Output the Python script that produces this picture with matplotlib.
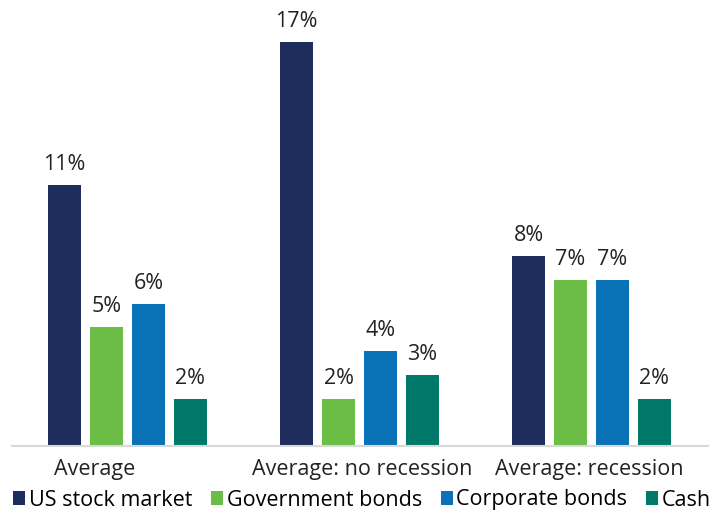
import matplotlib
matplotlib.use("Agg")
import matplotlib.pyplot as plt
import numpy as np
from matplotlib.patches import Patch

plt.rcParams["font.family"] = ["Open Sans", "DejaVu Sans"]

categories = ["Average", "Average: no recession", "Average: recession"]
series = ["US stock market", "Government bonds", "Corporate bonds", "Cash"]
stock = [11, 17, 8]
gov_bonds = [5, 2, 7]
corp_bonds = [6, 4, 7]
cash = [2, 3, 2]
colors = ["#1e2d5b", "#6bbd45", "#0a73b8", "#00796b"]

values = [stock, gov_bonds, corp_bonds, cash]

fig = plt.figure(figsize=(7.24, 5.13), dpi=100)
ax = fig.add_axes([11.5 / 724, 67 / 513, 696 / 724, 446 / 513])

x = np.arange(len(categories))
width = 0.142
step = 0.181
offsets = (np.arange(len(series)) - 1.5) * step

for vals, off, color in zip(values, offsets, colors):
    bars = ax.bar(x + off, vals, width, color=color)
    for b, v in zip(bars, vals):
        ax.text(b.get_x() + b.get_width() / 2, v + 0.42, f"{v}%",
                ha="center", va="bottom", fontsize=15.5, color="#222222")

ax.set_xlim(-0.5, len(categories) - 0.5)
ax.set_ylim(0, 446 / 23.75)

for s in ["top", "right", "left"]:
    ax.spines[s].set_visible(False)
ax.spines["bottom"].set_color("#d9d9d9")
ax.spines["bottom"].set_linewidth(1.5)
ax.set_yticks([])
ax.set_xticks([])

# category labels sit a little off the group centres
label_x = [-0.14, 1.01, 1.99]
for lx, name in zip(label_x, categories):
    ax.text(lx, -0.97, name, ha="center", va="center", fontsize=15.5,
            color="#222222")

handles = [Patch(facecolor=c, edgecolor="none") for c in colors]
fig.legend(handles, series, loc="center", bbox_to_anchor=(0.5, 13 / 513),
           ncol=4, frameon=False, fontsize=15.5, handlelength=0.56,
           handleheight=0.6, handletextpad=0.18, columnspacing=0.86,
           borderaxespad=0, borderpad=0)

fig.savefig("out.png", dpi=100)
